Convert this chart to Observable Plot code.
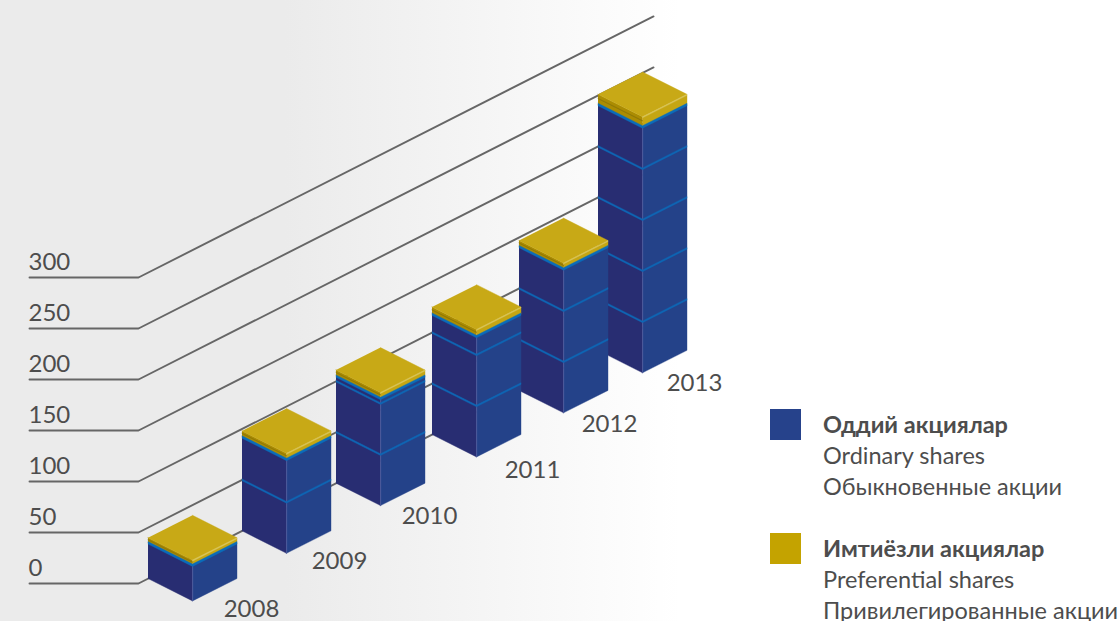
<!DOCTYPE html>
<html><head><meta charset="utf-8">
<script src="https://cdn.jsdelivr.net/npm/d3@7"></script>
<script src="https://cdn.jsdelivr.net/npm/@observablehq/plot@0.6"></script>
<style>
html,body{margin:0;padding:0;background:#fff;overflow:hidden}
#wrap{position:relative;width:1118px;height:621px;overflow:hidden;font-family:Lato,"Open Sans",sans-serif;color:#4d4d4d}
.lg{position:absolute;left:823px;font-size:23.5px;line-height:31px;white-space:nowrap}
.sw{position:absolute;left:770px;width:31px;height:31px}
.lg b{font-weight:700}
</style></head><body><div id="wrap"></div>
<script>
const years = [2008, 2009, 2010, 2011, 2012, 2013];
const ordinary = [35, 92, 105, 118, 141, 241];
const preferred = [5, 6, 6, 7, 6, 10];
const axisTicks = [0, 50, 100, 150, 200, 250, 300];
const legendNames = [["Оддий акциялар","Ordinary shares","Обыкновенные акции"],["Имтиёзли акциялар","Preferential shares","Привилегированные акции"]];

// oblique layout, in page pixels along the floor
const frontX = [192, 286, 380, 476, 563, 642];
const labelDX = [59, 53, 49, 56, 46, 52];
const labelDY = [8, 8, 11, 13, 11, 11];
const tickStart = 29, tickBend = 138, lineEnd = 653;
const pxPerUnit = 1.02;
const slope = 0.507 / pxPerUnit;       // value units per pixel along the floor lines
const halfW = 44.5, halfD = 22.4 / pxPerUnit;
const yAt = (x, v) => v + (x - tickBend) * slope;

const polys = [];
const addPoly = (id, color, pts) => pts.forEach(([x, y]) => polys.push({id, color, x, y}));
// back-to-front
for (let i = years.length - 1; i >= 0; i--) {
  const fx = frontX[i];
  const base = yAt(fx, 0) - 2 * halfD;    // front corner: the back corner stands on the zero line
  const o = ordinary[i], t = o + preferred[i];
  const L = fx - halfW, R = fx + halfW;
  addPoly(`b${i}l`, "#282d72", [[L, base + halfD], [fx, base], [fx, base + o], [L, base + o + halfD]]);
  addPoly(`b${i}r`, "#244289", [[fx, base], [R, base + halfD], [R, base + o + halfD], [fx, base + o]]);
  addPoly(`g${i}l`, "#ab8c02", [[L, base + o + halfD], [fx, base + o], [fx, base + t], [L, base + t + halfD]]);
  addPoly(`g${i}r`, "#c5a612", [[fx, base + o], [R, base + o + halfD], [R, base + t + halfD], [fx, base + t]]);
  addPoly(`g${i}t`, "#c8a916", [[L, base + t + halfD], [fx, base + t], [R, base + t + halfD], [fx, base + t + 2 * halfD]]);
  addPoly(`e${i}`, "#4d5a9c", [[fx - 0.4, base], [fx + 0.4, base], [fx + 0.4, base + o], [fx - 0.4, base + o]]);
  const seam = (id, v, color, w) => addPoly(id, color, [
    [L, base + v + halfD - w], [fx, base + v - w], [R, base + v + halfD - w],
    [R, base + v + halfD + w], [fx, base + v + w], [L, base + v + halfD + w]]);
  for (let v = 50; v < o; v += 50) seam(`s${i}_${v}`, v, "#0e66b4", 0.85);
  seam(`top${i}`, o, "#0a6cba", 1.2);
  addPoly(`hl${i}`, "#d9c65c", [[fx, base + t], [R, base + t + halfD], [R, base + t + halfD - 1], [fx, base + t - 1]]);
  const m = o + preferred[i] * 0.6;
  addPoly(`dl${i}`, "#8e7608", [[L, base + m + halfD - 0.3], [fx, base + m - 0.3], [fx, base + m + 0.3], [L, base + m + halfD + 0.3]]);
}

const gridPts = axisTicks.flatMap(v => [
  {v, x: tickStart, y: v}, {v, x: tickBend, y: v}, {v, x: lineEnd, y: yAt(lineEnd, v)}
]);
const yearRows = years.map((year, i) => ({
  year, x: frontX[i] + labelDX[i], y: yAt(frontX[i], 0) - 2 * halfD - labelDY[i] / pxPerUnit
}));

const chart = Plot.plot({
  width: 1118, height: 621, margin: 0,
  style: {background: "linear-gradient(90deg,#ebebeb 0%,#ebebeb 25.5%,#ffffff 60.8%)", fontFamily: "Lato,'Open Sans',sans-serif"},
  x: {domain: [0, 1118], range: [0, 1118], axis: null},
  y: {domain: [(583 - 621) / pxPerUnit, 583 / pxPerUnit], range: [621, 0], axis: null},
  color: {type: "identity"},
  marks: [
    Plot.line(gridPts, {x: "x", y: "y", z: "v", stroke: "#666666", strokeWidth: 1.9}),
    Plot.text(axisTicks, {x: () => tickStart - 1, y: d => d, text: d => String(d), textAnchor: "start", dy: -15, fontSize: 24, fill: "#4d4d4d"}),
    Plot.line(polys, {x: "x", y: "y", z: "id", fill: "color", stroke: "color", strokeWidth: 0.4, curve: "linear"}),
    Plot.text(yearRows, {x: "x", y: "y", text: d => String(d.year), fontSize: 24, fill: "#4d4d4d"})
  ]
});
const wrap = document.getElementById("wrap");
wrap.appendChild(chart);
const colors = ["#26428b", "#c4a300"], tops = [409, 533], textTops = [409, 533];
legendNames.forEach((names, k) => {
  const s = document.createElement("div"); s.className = "sw"; s.style.top = tops[k] + "px"; s.style.background = colors[k]; wrap.appendChild(s);
  const d = document.createElement("div"); d.className = "lg"; d.style.top = textTops[k] + "px";
  d.innerHTML = `<b>${names[0]}</b><br>${names[1]}<br>${names[2]}`; wrap.appendChild(d);
});
</script></body></html>
